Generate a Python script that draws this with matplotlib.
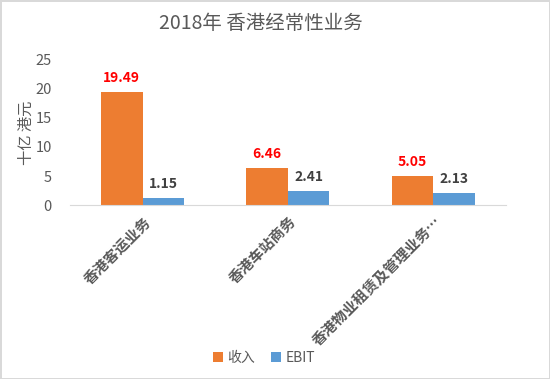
import matplotlib
matplotlib.use("Agg")
import matplotlib.pyplot as plt
import numpy as np

plt.rcParams['font.family'] = ['Noto Sans CJK SC', 'DejaVu Sans']

WIDTH = 550
HEIGHT = 379

categories = ["香港客运业务", "香港车站商务", "香港物业租赁及管理业务…"]
revenue = [19.49, 6.46, 5.05]
ebit = [1.15, 2.41, 2.13]
series_names = ["收入", "EBIT"]
y_ticks = [0, 5, 10, 15, 20, 25]

ORANGE = "#ED7D31"
BLUE = "#5B9BD5"
GRAY = "#595959"

fig = plt.figure(figsize=(WIDTH / 100, HEIGHT / 100), dpi=100)
ax = fig.add_axes([0.127, 0.459, 0.793, 0.383])

x = np.arange(len(categories))
w = 0.285
b1 = ax.bar(x - w / 2, revenue, w, color=ORANGE, label=series_names[0])
b2 = ax.bar(x + w / 2, ebit, w, color=BLUE, label=series_names[1])

for rect, v in zip(b1, revenue):
    ax.text(rect.get_x() + rect.get_width() / 2, v + 1.2, f"{v:.2f}",
            ha="center", va="bottom", color="#FF0000", fontsize=10, fontweight="bold")
for rect, v in zip(b2, ebit):
    ax.text(rect.get_x() + rect.get_width() / 2, v + 1.2, f"{v:.2f}",
            ha="center", va="bottom", color="#404040", fontsize=10, fontweight="bold")

ax.set_xlim(-0.5, len(categories) - 0.5)
ax.set_ylim(0, 25)
ax.set_yticks(y_ticks)
ax.set_xticks(x)
ax.set_xticklabels(categories, rotation=45, ha="right", rotation_mode="anchor",
                   fontsize=10.5, color=GRAY, fontweight="bold")
ax.tick_params(axis="y", length=0, labelsize=10.5, labelcolor=GRAY, pad=13)
ax.tick_params(axis="x", length=0, pad=6)
for s in ["top", "right", "left"]:
    ax.spines[s].set_visible(False)
ax.spines["bottom"].set_color("#D9D9D9")

ax.set_ylabel("十亿 港元", fontsize=11, color=GRAY)
ax.yaxis.set_label_coords(-0.08, 0.5)

fig.suptitle("2018年 香港经常性业务", x=0.475, y=0.965, fontsize=14, color=GRAY)

fig.legend(handles=[b1, b2], labels=series_names, loc="center", bbox_to_anchor=(0.48, 0.055),
           ncol=2, frameon=False, fontsize=10, handlelength=0.7, handleheight=0.7,
           handletextpad=0.3, columnspacing=1.2, labelcolor=GRAY)

fig.patch.set_edgecolor("#D9D9D9")
fig.patch.set_linewidth(1)

fig.savefig("out.png", dpi=100)
